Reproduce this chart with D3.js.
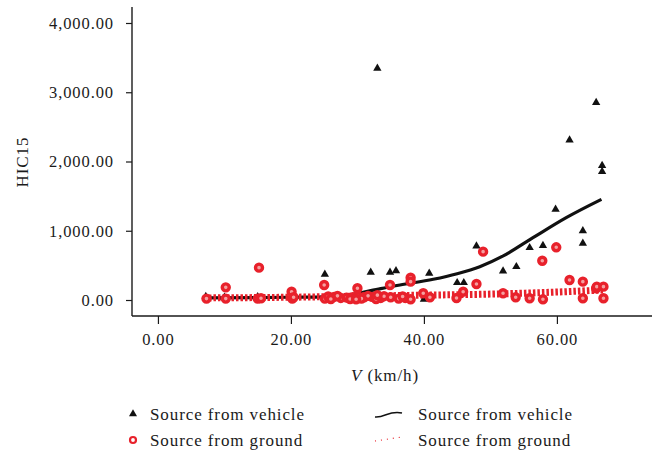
<!DOCTYPE html>
<html>
<head>
<meta charset="utf-8">
<script src="https://cdn.jsdelivr.net/npm/d3@7"></script>
<style>
  body { margin: 0; background: #fff; }
  svg text { font-family: "Liberation Serif", "Times New Roman", serif; fill: #1a1a1a; }
</style>
</head>
<body>
<div id="chart"></div>
<script>
// ---- data ----
// vehicle source (triangles): speed km/h, HIC15
var vehicleV = [7.2, 10, 15, 20.2, 25.1, 28, 30, 32.0, 33.0, 34.9, 35.8, 40, 40.8, 45.0, 46.0, 47.9,
                51.9, 53.9, 55.9, 57.9, 59.8, 61.9, 63.9, 63.9, 65.9, 66.8, 66.8];
var vehicleH = [50, 40, 45, 60, 371, 30, 50, 400, 3346, 400, 420, 10, 385, 250, 250, 780,
                419, 481, 755, 785, 1310, 2310, 1000, 818, 2850, 1940, 1853];

// ground source (circles)
var groundV = [7.3, 10.2, 10.2, 15.0, 15.2, 15.5, 20.1, 20.2, 20.4, 25.0, 25.1, 25.6, 26.5, 27.5, 28.4,
               29.3, 30.0, 30.1, 31.0, 32.2, 33.5, 34.9, 35.0, 36.2, 37.2, 38.0, 38.0, 38.0, 39.9, 40.9,
               44.9, 45.9, 47.9, 48.9, 51.9, 53.8, 55.9, 57.8, 57.9, 59.9, 61.9, 63.9, 63.9, 65.9, 66.0,
               67.0, 67.0, 26.0, 27.0, 28.9, 30.6, 31.6, 32.8, 34.0, 36.8, 29.8, 33.0];
var groundH = [20, 183, 20, 20, 467, 25, 120, 20, 40, 217, 20, 50, 45, 30, 35,
               40, 169, 50, 40, 45, 30, 217, 40, 20, 30, 322, 265, 10, 97, 40,
               29, 120, 231, 698, 97, 39, 25, 567, 10, 761, 289, 265, 25, 169, 193,
               193, 25, 15, 60, 15, 20, 60, 15, 55, 50, 10, 70];

// fitted trend lines
var vehicleFitV = [7, 15, 20, 25, 27, 29, 31, 33.5, 36.4, 41.4, 45, 48.4, 52, 56.4, 61.4, 66.7];
var vehicleFitH = [30, 35, 40, 45, 50, 75, 115, 165, 217, 299, 380, 481, 640, 900, 1190, 1454];
var groundFitV = [7, 20, 30, 40, 50, 60, 67];
var groundFitH = [30, 40, 55, 70, 85, 115, 145];

var yTicks = [0, 1000, 2000, 3000, 4000];
var xTicks = [0, 20, 40, 60];
var legendLabels = ["Source from vehicle", "Source from ground"];

// ---- layout ----
var W = 652, H = 455;
var x = d3.scaleLinear().domain([-3.9, 74.3]).range([132, 652]);
var y = d3.scaleLinear().domain([-231, 4231]).range([316, 7]);
var red = "#e8212b";
var serif = "'Liberation Serif', 'Times New Roman', serif";

var svg = d3.select("#chart").append("svg")
  .attr("width", W).attr("height", H);

var fmt = d3.format(",.2f");

// y axis
var yAxis = svg.append("g")
  .attr("transform", "translate(132,0)")
  .call(d3.axisLeft(y).tickValues(yTicks).tickSize(6).tickPadding(12).tickFormat(fmt));
yAxis.select(".domain").attr("d", "M0,7V316").attr("stroke", "#1a1a1a").attr("stroke-width", 1.4);
yAxis.selectAll(".tick line").attr("stroke", "#1a1a1a").attr("stroke-width", 1.2);
yAxis.selectAll("text").style("font-family", serif).attr("font-size", "16.5px")
  .attr("letter-spacing", "0.9px").attr("fill", "#1a1a1a");

// x axis
var xAxis = svg.append("g")
  .attr("transform", "translate(0,316)")
  .call(d3.axisBottom(x).tickValues(xTicks).tickSize(8).tickPadding(9).tickFormat(fmt));
xAxis.select(".domain").attr("d", "M132,0H652").attr("stroke", "#1a1a1a").attr("stroke-width", 1.4);
xAxis.selectAll(".tick line").attr("stroke", "#1a1a1a").attr("stroke-width", 1.2);
xAxis.selectAll("text").style("font-family", serif).attr("font-size", "16.5px")
  .attr("letter-spacing", "0.9px").attr("fill", "#1a1a1a");

// axis titles
svg.append("text")
  .attr("transform", "translate(28,162) rotate(-90)")
  .attr("text-anchor", "middle")
  .attr("font-size", "17px").attr("letter-spacing", "0.9px")
  .text("HIC15");

var xt = svg.append("text")
  .attr("x", 385).attr("y", 381)
  .attr("text-anchor", "middle")
  .attr("font-size", "17px").attr("letter-spacing", "0.9px");
xt.append("tspan").attr("font-style", "italic").text("V");
xt.append("tspan").text(" (km/h)");

// trend lines
var line = d3.line().x(function(d){ return x(d[0]); }).y(function(d){ return y(d[1]); })
  .curve(d3.curveMonotoneX);

svg.append("path")
  .datum(vehicleFitV.map(function(v, i){ return [v, vehicleFitH[i]]; }))
  .attr("d", line)
  .attr("fill", "none").attr("stroke", "#111").attr("stroke-width", 3.2);

svg.append("path")
  .datum(groundFitV.map(function(v, i){ return [v, groundFitH[i]]; }))
  .attr("d", line)
  .attr("fill", "none").attr("stroke", red).attr("stroke-width", 7)
  .attr("stroke-dasharray", "2.5 2");

// triangles
var tri = d3.symbol().type(d3.symbolTriangle).size(30);
svg.selectAll(".veh")
  .data(vehicleV.map(function(v, i){ return [v, vehicleH[i]]; }))
  .enter().append("path")
  .attr("class", "veh")
  .attr("d", tri)
  .attr("transform", function(d){ return "translate(" + x(d[0]) + "," + y(d[1]) + ")"; })
  .attr("fill", "#111");

// circles
svg.selectAll(".gnd")
  .data(groundV.map(function(v, i){ return [v, groundH[i]]; }))
  .enter().append("circle")
  .attr("class", "gnd")
  .attr("cx", function(d){ return x(d[0]); })
  .attr("cy", function(d){ return y(d[1]); })
  .attr("r", 3.5)
  .attr("fill", "#f4a0a0")
  .attr("stroke", red).attr("stroke-width", 3.4);

// legend
var lg = svg.append("g");
lg.append("path").attr("d", d3.symbol().type(d3.symbolTriangle).size(28))
  .attr("transform", "translate(133,414)").attr("fill", "#111");
lg.append("circle").attr("cx", 133).attr("cy", 440).attr("r", 3)
  .attr("fill", "#fff").attr("stroke", red).attr("stroke-width", 2.2);
lg.append("path").attr("d", "M375,417 C385,418 389,410 402,413")
  .attr("fill", "none").attr("stroke", "#111").attr("stroke-width", 1.5);
lg.append("path").attr("d", "M375,441 L402,437")
  .attr("fill", "none").attr("stroke", red).attr("stroke-width", 1.2)
  .attr("stroke-dasharray", "1 5");

[[150, 420, 0], [150, 446, 1], [418, 420, 0], [418, 446, 1]].forEach(function(p){
  lg.append("text").attr("x", p[0]).attr("y", p[1])
    .attr("font-size", "17px").attr("letter-spacing", "0.9px")
    .text(legendLabels[p[2]]);
});
</script>
</body>
</html>
